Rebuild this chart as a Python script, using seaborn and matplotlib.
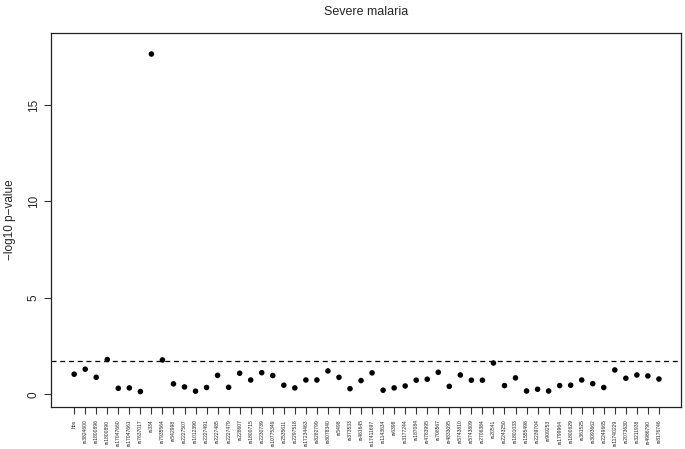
import matplotlib
matplotlib.use("Agg")
import matplotlib.pyplot as plt
import seaborn as sns
import pandas as pd

snps = ["hbs", "rs3824600", "rs1800896", "rs1800890", "rs17047660", "rs17047661",
        "rs7637017", "rs334", "rs7935564", "rs542998", "rs2227507", "rs1012390",
        "rs2227491", "rs2227485", "rs2227479", "rs228607", "rs1800715", "rs2230739",
        "rs10775349", "rs2535611", "rs2297518", "rs17234463", "rs8282799", "rs8078340",
        "rs5498", "rs373533", "rs461645", "rs17411697", "rs1143634", "rs6398",
        "rs3177244", "rs187084", "rs4783995", "rs708567", "rs4833095", "rs5743810",
        "rs5743809", "rs2706384", "rs20541", "rs2243250", "rs1801033", "rs1555498",
        "rs2239704", "rs909253", "rs1799964", "rs1800629", "rs361525", "rs3093662",
        "rs2249665", "rs11740229", "rs2073630", "rs3211938", "rs4986790", "rs8176746"]
neglog_p = [1.04, 1.30, 0.88, 1.80, 0.31, 0.33, 0.14, 17.64, 1.78, 0.54,
            0.38, 0.16, 0.35, 0.98, 0.36, 1.09, 0.74, 1.12, 0.97, 0.47,
            0.33, 0.74, 0.74, 1.21, 0.88, 0.29, 0.71, 1.11, 0.21, 0.33,
            0.43, 0.73, 0.78, 1.14, 0.41, 1.00, 0.73, 0.73, 1.62, 0.45,
            0.85, 0.17, 0.26, 0.17, 0.45, 0.47, 0.74, 0.55, 0.35, 1.26,
            0.83, 1.00, 0.95, 0.79]
threshold = 1.72

df = pd.DataFrame({"pos": range(len(snps)), "snp": snps, "p": neglog_p})

sns.set_style("ticks")
plt.rcParams["font.family"] = ["Liberation Sans", "DejaVu Sans"]

fig = plt.figure(figsize=(6.85, 4.49), dpi=100)
ax = fig.add_axes([51 / 685, 42 / 449, 630 / 685, 374 / 449])

sns.scatterplot(data=df, x="pos", y="p", ax=ax, color="black", s=16,
                edgecolor="none", legend=False)
ax.axhline(threshold, color="black", linestyle=(0, (4, 3)), linewidth=0.9)

ax.set_xlim(-2.1, 55.0)
ax.set_ylim(-0.66, 18.73)
ax.set_xticks(df["pos"])
ax.set_xticklabels(snps, rotation=90, fontsize=3.6)
ax.set_yticks([0, 5, 10, 15])
ax.set_yticklabels(["0", "5", "10", "15"], rotation=90, va="center", fontsize=8.5)
ax.tick_params(axis="both", length=5, width=0.8, color="#333333")
ax.tick_params(axis="y", pad=3)
ax.tick_params(axis="x", pad=4)
for sp in ax.spines.values():
    sp.set_visible(True)
    sp.set_linewidth(0.9)
    sp.set_color("#222222")

ax.set_xlabel("")
ax.set_ylabel("\u2212log10 p\u2212value", fontsize=8.5, va="center")
ax.yaxis.set_label_coords(-0.065, 0.5)
fig.text(366 / 685, 1 - 12 / 449, "Severe malaria", ha="center", va="center", fontsize=9)

fig.savefig("out.png", dpi=100)
